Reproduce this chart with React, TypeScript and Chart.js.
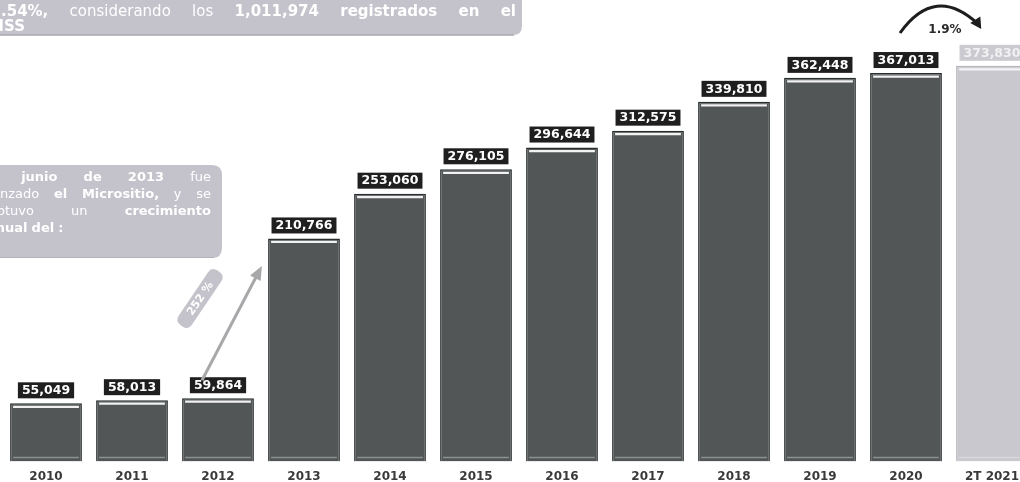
import React, { useEffect, useRef } from "react";
import { Chart, registerables } from "chart.js";

Chart.register(...registerables);

const categories = ["2010", "2011", "2012", "2013", "2014", "2015", "2016", "2017", "2018", "2019", "2020", "2T 2021"];
const values = [55049, 58013, 59864, 210766, 253060, 276105, 296644, 312575, 339810, 362448, 367013, 373830];
const valueLabels = ["55,049", "58,013", "59,864", "210,766", "253,060", "276,105", "296,644", "312,575", "339,810", "362,448", "367,013", "373,830"];
const growthLabel = "252 %";
const yearGrowthLabel = "1.9%";

const DARK = "#525657";
const DARK_BORDER = "#2a2e2e";
const LIGHT = "#c8c8ce";
const LIGHT_BORDER = "#b4b4ba";
const BOX = "#c4c3cc";
const FONT = "'DejaVu Sans', sans-serif";

type Word = { t: string; b: boolean };

function setFont(ctx: CanvasRenderingContext2D, size: number, bold: boolean) {
  ctx.font = `${bold ? "bold " : ""}${size}px ${FONT}`;
}

function drawWords(ctx: CanvasRenderingContext2D, words: Word[], x0: number, x1: number, y: number, size: number, justify: boolean) {
  const widths = words.map((w) => {
    setFont(ctx, size, w.b);
    return ctx.measureText(w.t).width;
  });
  const total = widths.reduce((a, b) => a + b, 0);
  setFont(ctx, size, false);
  const space = ctx.measureText(" ").width;
  const gap = justify && words.length > 1 ? (x1 - x0 - total) / (words.length - 1) : space;
  let x = x0;
  ctx.textBaseline = "middle";
  ctx.textAlign = "left";
  words.forEach((w, i) => {
    setFont(ctx, size, w.b);
    ctx.fillText(w.t, x, y);
    x += widths[i] + gap;
  });
}

function prefixWidth(ctx: CanvasRenderingContext2D, text: string, size: number, bold: boolean) {
  setFont(ctx, size, bold);
  return ctx.measureText(text).width;
}

function roundRect(ctx: CanvasRenderingContext2D, x: number, y: number, w: number, h: number, r: number) {
  ctx.beginPath();
  ctx.moveTo(x + r, y);
  ctx.lineTo(x + w - r, y);
  ctx.quadraticCurveTo(x + w, y, x + w, y + r);
  ctx.lineTo(x + w, y + h - r);
  ctx.quadraticCurveTo(x + w, y + h, x + w - r, y + h);
  ctx.lineTo(x + r, y + h);
  ctx.quadraticCurveTo(x, y + h, x, y + h - r);
  ctx.lineTo(x, y + r);
  ctx.quadraticCurveTo(x, y, x + r, y);
  ctx.closePath();
}

const decorPlugin = {
  id: "decor",
  afterDatasetsDraw(chart: any) {
    const ctx: CanvasRenderingContext2D = chart.ctx;
    const meta = chart.getDatasetMeta(0);
    const last = values.length - 1;
    ctx.save();
    // bar caps and bottoms
    meta.data.forEach((bar: any, i: number) => {
      const { x, y, base, width } = bar.getProps(["x", "y", "base", "width"], true);
      const l = x - width / 2;
      const r = x + width / 2;
      ctx.strokeStyle = i === last ? "#f4f4f6" : "#f2f2f2";
      ctx.lineWidth = 2.2;
      ctx.beginPath();
      ctx.moveTo(l + 3, y + 3.5);
      ctx.lineTo(r - 3, y + 3.5);
      ctx.stroke();
      ctx.strokeStyle = i === last ? "#d8d8dc" : "#8d9091";
      ctx.lineWidth = 1.5;
      ctx.beginPath();
      ctx.moveTo(l + 3, base - 4);
      ctx.lineTo(r - 3, base - 4);
      ctx.stroke();
      // value label box
      setFont(ctx, 12.5, true);
      const tw = ctx.measureText(valueLabels[i]).width;
      const bw = tw + 8;
      const bh = 16;
      const by = y - 5 - bh;
      ctx.fillStyle = i === last ? "#cacad0" : "#1f1f1f";
      ctx.fillRect(x - bw / 2, by, bw, bh);
      ctx.fillStyle = i === last ? "#f1f1f3" : "#ffffff";
      ctx.textAlign = "center";
      ctx.textBaseline = "middle";
      ctx.fillText(valueLabels[i], x, by + bh / 2 + 0.5);
    });

    const xs = chart.scales.x;
    const ys = chart.scales.y;
    const x2012 = xs.getPixelForValue(2);
    const x2013 = xs.getPixelForValue(3);
    const x2020 = xs.getPixelForValue(10);
    const x2021 = xs.getPixelForValue(11);
    const y2012 = ys.getPixelForValue(values[2]);
    const y2013 = ys.getPixelForValue(values[3]);

    // growth arrow 2012 -> 2013
    const sx = x2012 - 16, sy = y2012 - 18;
    const ex = x2013 - 44, ey = y2013 + 31;
    ctx.strokeStyle = "#a8a8ab";
    ctx.fillStyle = "#a8a8ab";
    ctx.lineWidth = 3;
    ctx.beginPath();
    ctx.moveTo(sx, sy);
    ctx.lineTo(ex, ey);
    ctx.stroke();
    const ang = Math.atan2(ey - sy, ex - sx);
    ctx.beginPath();
    ctx.moveTo(ex + Math.cos(ang) * 4, ey + Math.sin(ang) * 4);
    ctx.lineTo(ex - Math.cos(ang) * 10 + Math.cos(ang + Math.PI / 2) * 6, ey - Math.sin(ang) * 10 + Math.sin(ang + Math.PI / 2) * 6);
    ctx.lineTo(ex - Math.cos(ang) * 10 - Math.cos(ang + Math.PI / 2) * 6, ey - Math.sin(ang) * 10 - Math.sin(ang + Math.PI / 2) * 6);
    ctx.closePath();
    ctx.fill();

    // 252 % pill
    ctx.save();
    ctx.translate(x2012 - 18, y2013 + 60);
    ctx.rotate(-56 * Math.PI / 180);
    ctx.fillStyle = BOX;
    roundRect(ctx, -33, -8, 66, 16, 7);
    ctx.fill();
    ctx.fillStyle = "#ffffff";
    setFont(ctx, 11, true);
    ctx.textAlign = "center";
    ctx.textBaseline = "middle";
    ctx.fillText(growthLabel, 0, 0.5);
    ctx.restore();

    // curved arrow 2020 -> 2T 2021
    const cx0 = x2020 - 6, cy0 = 33;
    const cx1 = x2021 - 14, cy1 = 24;
    const qx = (cx0 + cx1) / 2 - 4, qy = -16;
    ctx.strokeStyle = "#1d1d1d";
    ctx.fillStyle = "#1d1d1d";
    ctx.lineWidth = 3;
    ctx.beginPath();
    ctx.moveTo(cx0, cy0);
    ctx.quadraticCurveTo(qx, qy, cx1, cy1);
    ctx.stroke();
    const a2 = Math.atan2(cy1 - qy, cx1 - qx) + 0.25;
    const tx = cx1 + Math.cos(a2) * 6, ty = cy1 + Math.sin(a2) * 6;
    ctx.beginPath();
    ctx.moveTo(tx, ty);
    ctx.lineTo(tx - Math.cos(a2) * 11 + Math.cos(a2 + Math.PI / 2) * 6, ty - Math.sin(a2) * 11 + Math.sin(a2 + Math.PI / 2) * 6);
    ctx.lineTo(tx - Math.cos(a2) * 11 - Math.cos(a2 + Math.PI / 2) * 6, ty - Math.sin(a2) * 11 - Math.sin(a2 + Math.PI / 2) * 6);
    ctx.closePath();
    ctx.fill();
    setFont(ctx, 12, true);
    ctx.fillStyle = "#2a2a2a";
    ctx.textAlign = "center";
    ctx.textBaseline = "middle";
    ctx.fillText(yearGrowthLabel, (cx0 + cx1) / 2 + 6, 30);

    // top text box
    ctx.fillStyle = BOX;
    roundRect(ctx, -12, -12, 534, 47, 9);
    ctx.fill();
    ctx.strokeStyle = "#a9a8b1";
    ctx.lineWidth = 1.5;
    ctx.beginPath();
    ctx.moveTo(0, 35);
    ctx.lineTo(514, 35);
    ctx.stroke();
    ctx.fillStyle = "#ffffff";
    const topLine1: Word[] = [
      { t: "5.54%,", b: true }, { t: "considerando", b: false }, { t: "los", b: false },
      { t: "1,011,974", b: true }, { t: "registrados", b: true }, { t: "en", b: true }, { t: "el", b: true },
    ];
    drawWords(ctx, topLine1, -prefixWidth(ctx, "5", 15, true) + 1, 516, 12, 15, true);
    drawWords(ctx, [{ t: "IMSS", b: true }], -prefixWidth(ctx, "IM", 15, true) + 4, 516, 27, 15, false);

    // middle text box
    ctx.fillStyle = BOX;
    roundRect(ctx, -20, 165, 242, 93, 10);
    ctx.fill();
    ctx.strokeStyle = "#b3b2bb";
    ctx.lineWidth = 1.2;
    ctx.beginPath();
    ctx.moveTo(0, 257.5);
    ctx.lineTo(214, 257.5);
    ctx.stroke();
    ctx.fillStyle = "#ffffff";
    const s = 13;
    drawWords(ctx, [{ t: "En", b: false }, { t: "junio", b: true }, { t: "de", b: true }, { t: "2013", b: true }, { t: "fue", b: false }],
      15 - prefixWidth(ctx, "En", s, false) - 20, 211, 178, s, true);
    drawWords(ctx, [{ t: "lanzado", b: false }, { t: "el", b: true }, { t: "Micrositio,", b: true }, { t: "y", b: false }, { t: "se", b: false }],
      -prefixWidth(ctx, "la", s, false), 211, 195, s, true);
    drawWords(ctx, [{ t: "obtuvo", b: false }, { t: "un", b: false }, { t: "crecimiento", b: true }],
      5 - prefixWidth(ctx, "ob", s, false), 211, 212, s, true);
    drawWords(ctx, [{ t: "anual", b: true }, { t: "del", b: true }, { t: ":", b: true }],
      5 - prefixWidth(ctx, "an", s, true), 211, 229, s, false);
    ctx.restore();
  },
};

export default function App() {
  const ref = useRef<HTMLCanvasElement | null>(null);
  useEffect(() => {
    document.body.style.margin = "0";
    document.body.style.background = "#ffffff";
    if (!ref.current) return;
    const last = values.length - 1;
    const chart = new Chart(ref.current, {
      type: "bar",
      data: {
        labels: categories,
        datasets: [
          {
            data: values,
            backgroundColor: values.map((_, i) => (i === last ? LIGHT : DARK)),
            borderColor: values.map((_, i) => (i === last ? LIGHT_BORDER : DARK_BORDER)),
            borderWidth: 1.5,
            categoryPercentage: 1,
            barPercentage: 0.835,
          },
        ],
      },
      options: {
        responsive: false,
        animation: false,
        layout: { padding: { left: 3, right: 1, top: 0, bottom: 0 } },
        plugins: { legend: { display: false }, tooltip: { enabled: false } },
        scales: {
          x: {
            grid: { display: false },
            border: { display: false },
            ticks: { color: "#3a3a3a", font: { family: FONT, size: 12, weight: "bold" }, padding: 0, maxRotation: 0 },
          },
          y: { display: false, min: 0, max: 436000 },
        },
      },
      plugins: [decorPlugin],
    });
    return () => chart.destroy();
  }, []);
  return (
    <div style={{ width: 1020, height: 482, overflow: "hidden", position: "relative", background: "#fff" }}>
      <canvas ref={ref} width={1036} height={484} style={{ display: "block", width: 1036, height: 484 }} />
    </div>
  );
}
